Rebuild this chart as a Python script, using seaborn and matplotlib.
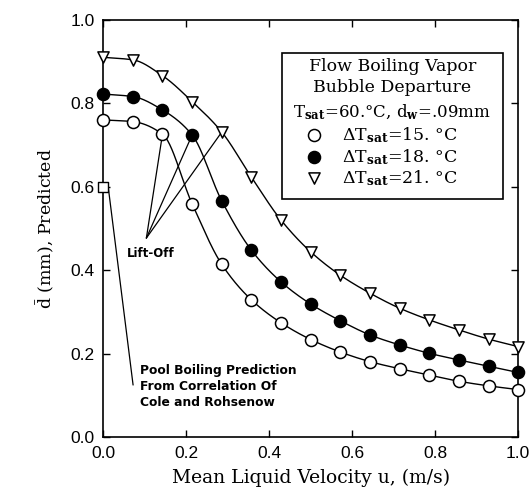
import numpy as np
import pandas as pd
import matplotlib
matplotlib.use("Agg")
import matplotlib.pyplot as plt
import seaborn as sns

# ---- data ----
velocity = [i / 14 for i in range(15)]
d_15 = [0.760, 0.756, 0.726, 0.559, 0.414, 0.329, 0.274, 0.234, 0.204, 0.181, 0.164, 0.149, 0.134, 0.123, 0.114]
d_18 = [0.822, 0.816, 0.784, 0.724, 0.566, 0.448, 0.372, 0.319, 0.279, 0.245, 0.221, 0.201, 0.185, 0.170, 0.155]
d_21 = [0.910, 0.904, 0.866, 0.804, 0.731, 0.623, 0.520, 0.444, 0.388, 0.345, 0.309, 0.281, 0.257, 0.235, 0.217]
series_labels = ["15.", "18.", "21."]
pool_x, pool_y = [0.0], [0.60]
liftoff_index = [2, 3, 4]
ticks = [0.0, 0.2, 0.4, 0.6, 0.8, 1.0]

sns.set_style("ticks")
plt.rcParams["mathtext.fontset"] = "dejavuserif"
plt.rcParams["text.color"] = "black"
plt.rcParams["axes.labelcolor"] = "black"


def pchip(x, y, xs):
    x = np.asarray(x, float); y = np.asarray(y, float)
    h = np.diff(x); d = np.diff(y) / h
    m = np.zeros_like(y)
    for k in range(1, len(x) - 1):
        if d[k - 1] * d[k] > 0:
            w1 = 2 * h[k] + h[k - 1]; w2 = h[k] + 2 * h[k - 1]
            m[k] = (w1 + w2) / (w1 / d[k - 1] + w2 / d[k])
    m[0] = d[0]; m[-1] = d[-1]
    idx = np.clip(np.searchsorted(x, xs) - 1, 0, len(x) - 2)
    t = (xs - x[idx]) / h[idx]
    h00 = 2 * t**3 - 3 * t**2 + 1; h10 = t**3 - 2 * t**2 + t
    h01 = -2 * t**3 + 3 * t**2; h11 = t**3 - t**2
    return h00 * y[idx] + h10 * h[idx] * m[idx] + h01 * y[idx + 1] + h11 * h[idx] * m[idx + 1]


fig = plt.figure(figsize=(5.32, 4.94), dpi=100)
ax = fig.add_axes([0.194, 0.115, 0.780, 0.845])

xs = np.linspace(0, 1, 400)
series = [d_15, d_18, d_21]
markers = ["o", "o", "v"]
faces = ["white", "black", "white"]
for vals, mk, fc in zip(series, markers, faces):
    curve = pd.DataFrame({"u": xs, "d": pchip(velocity, vals, xs)})
    sns.lineplot(data=curve, x="u", y="d", ax=ax, color="black", lw=1.0, zorder=2)
    pts = pd.DataFrame({"u": velocity, "d": vals})
    sns.scatterplot(data=pts, x="u", y="d", ax=ax, marker=mk, s=75 if mk == "o" else 65,
                    facecolor=fc, edgecolor="black", linewidth=1.1, zorder=3, clip_on=False)

sns.scatterplot(x=pool_x, y=pool_y, ax=ax, marker="s", s=45, facecolor="white",
                edgecolor="black", linewidth=1.0, zorder=3, clip_on=False)

# Lift-off annotation
origin = (0.104, 0.477)
for vals, i in zip(series, liftoff_index):
    ax.plot([origin[0], velocity[i]], [origin[1], vals[i]], color="black", lw=0.9, zorder=1)
ax.text(0.058, 0.441, "Lift-Off", fontsize=8.5, fontweight="bold", family="DejaVu Sans",
        va="center", ha="left")

# Pool boiling annotation
ax.plot([pool_x[0] + 0.012, 0.072], [pool_y[0], 0.125], color="black", lw=0.9, zorder=1)
ax.text(0.089, 0.175, "Pool Boiling Prediction\nFrom Correlation Of\nCole and Rohsenow",
        fontsize=8.8, fontweight="bold", family="DejaVu Sans", va="top", ha="left",
        linespacing=1.3)

# Legend box
ax.add_patch(plt.Rectangle((0.431, 0.571), 0.533, 0.350, transform=ax.transAxes,
                           facecolor="white", edgecolor="black", lw=1.2, zorder=4))
serif = "DejaVu Serif"
fs = 12.5
ax.text(0.697, 0.887, "Flow Boiling Vapor", transform=ax.transAxes, ha="center", va="center",
        fontsize=fs, family=serif, zorder=5)
ax.text(0.697, 0.837, "Bubble Departure", transform=ax.transAxes, ha="center", va="center",
        fontsize=fs, family=serif, zorder=5)
ax.text(0.697, 0.779, r"T$_{\mathbf{sat}}$=60.°C, d$_{\mathbf{w}}$=.09mm", transform=ax.transAxes,
        ha="center", va="center", fontsize=12, family=serif, zorder=5)
leg_y = [0.724, 0.671, 0.621]
for yy, lab, mk, fc in zip(leg_y, series_labels, markers, faces):
    ax.scatter([0.508], [yy], transform=ax.transAxes, marker=mk, s=75 if mk == "o" else 65,
               facecolor=fc, edgecolor="black", linewidth=1.1, zorder=5)
    ax.text(0.575, yy, r"$\Delta$T$_{\mathbf{sat}}$=" + lab + " °C", transform=ax.transAxes,
            ha="left", va="center", fontsize=fs, family=serif, zorder=5)

ax.set_xlim(0, 1)
ax.set_ylim(0, 1)
ax.set_xticks(ticks)
ax.set_yticks(ticks)
ax.set_xticklabels([f"{t:.1f}" for t in ticks], family="Liberation Sans", fontsize=12.5)
ax.set_yticklabels([f"{t:.1f}" for t in ticks], family="Liberation Sans", fontsize=12.5)
ax.tick_params(direction="in", length=5, width=1, top=True, right=True, pad=6, colors="black")
for sp in ax.spines.values():
    sp.set_visible(True); sp.set_color("black"); sp.set_linewidth(1.2)
ax.set_xlabel("Mean Liquid Velocity u, (m/s)", family=serif, fontsize=13.5, labelpad=6)
ax.set_ylabel(r"$\bar{\mathrm{d}}$ (mm), Predicted", family=serif, fontsize=12.5, labelpad=10)

fig.savefig("out.png", dpi=100)
